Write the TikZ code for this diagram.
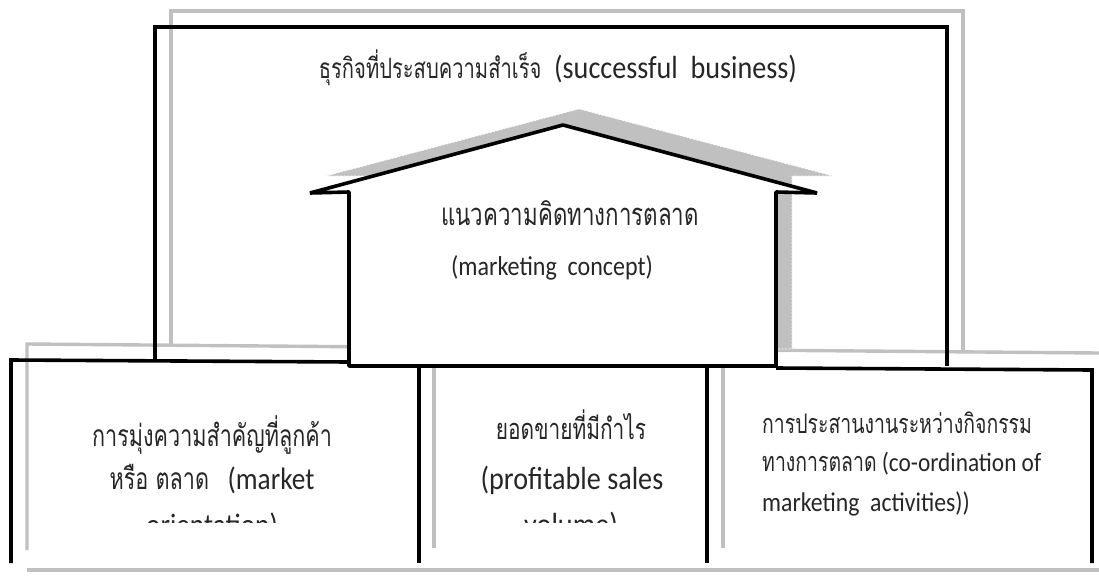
\documentclass[tikz,border=0pt]{standalone}
\usepackage{fontspec}
\setmainfont[FakeStretch=0.88]{Carlito}
\newfontfamily\thai[Script=Thai, FakeStretch=0.72]{Loma}
\definecolor{shadowgray}{RGB}{192,192,192}
\tikzset{
  blk/.style={line width=3.6pt, draw=black, line join=miter},
  gry/.style={line width=3.4pt, draw=shadowgray},
  txt/.style={inner sep=0pt, anchor=base, text=black!85},
  txtl/.style={inner sep=0pt, anchor=base west, text=black!85},
}
\begin{document}
\begin{tikzpicture}[x=1pt,y=-1pt]
\useasboundingbox (0,0) rectangle (1099,581);
% ---------- gray shadow lines ----------
\coordinate (gTL) at (171,11);
\coordinate (gTR) at (963,11);
\draw[gry] (171,345) -- (gTL) -- (gTR) -- (963,351);
\draw[gry] (27,550) -- (27,344) -- (1099,353);
\draw[gry] (434,350) -- (434,548);
\draw[gry] (723,352) -- (723,548);
\draw[gry] (27,570) -- (1099,570);
% house shadow
\draw[fill=shadowgray, draw=white, line width=0.6pt, dash pattern=on 2pt off 1.5pt]
  (365,349) -- (365,176) -- (326,176) -- (579,109) -- (833,176) -- (792,176) -- (792,349) -- cycle;
% ---------- big frame ----------
\draw[blk] (155,362) -- (155,27) -- (947,27) -- (947,366);
% ---------- house ----------
\draw[blk, fill=white, line join=bevel]
  (349,366) -- (349,192) -- (310,193) -- (563,125) -- (817,193) -- (776,192) -- (776,366) -- cycle;
% ---------- bottom boxes ----------
\draw[blk] (11,563) -- (11,360) -- (349,362);
\draw[blk] (776,368) -- (1092,370) -- (1092,563);
\draw[blk] (419,366) -- (419,563);
\draw[blk] (707,366) -- (707,563);
% ---------- texts ----------
\node[txt] (title) at (558,78) {{\thai\fontsize{28}{32}\selectfont ธุรกิจที่ประสบความสำเร็จ}\fontsize{32}{34}\selectfont ~~(successful~~business)};
\node[txt] (house1) at (570,225) {\thai\fontsize{31}{34}\selectfont แนวความคิดทางการตลาด};
\node[txt] (house2) at (552,275) {\fontsize{27.3}{30}\selectfont (marketing~~concept)};
\begin{scope}
\clip (0,0) rectangle (1099,522);
\node[txt] (l1) at (212,446) {\thai\fontsize{30}{34}\selectfont การมุ่งความสำคัญที่ลูกค้า};
\node[txt] (l2) at (212,489) {{\thai\fontsize{30}{34}\selectfont หรือ ตลาด}\fontsize{31}{34}\selectfont ~~~(market};
\node[txt] (l3) at (212,535) {\fontsize{31}{34}\selectfont orientation)};
\node[txt] (m1) at (571,439) {\thai\fontsize{29}{34}\selectfont ยอดขายที่มีกำไร};
\node[txt] (m2) at (572,489) {\fontsize{32}{34}\selectfont (profitable sales};
\node[txt] (m3) at (571,535) {\fontsize{32}{34}\selectfont volume)};
\end{scope}
\node[txtl] (r1) at (762,433) {\thai\fontsize{27}{30}\selectfont การประสานงานระหว่างกิจกรรม};
\node[txtl] (r2) at (762,471) {{\thai\fontsize{27}{30}\selectfont ทางการตลาด}\fontsize{26.5}{30}\selectfont ~(co-ordination of};
\node[txtl] (r3) at (762,511) {\fontsize{27}{30}\selectfont marketing~~activities))};
\end{tikzpicture}
\end{document}
